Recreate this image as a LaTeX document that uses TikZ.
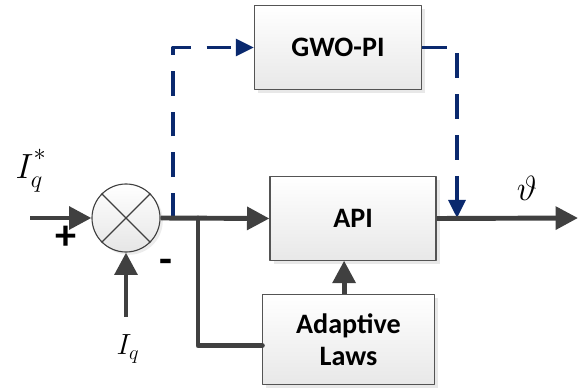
\documentclass[tikz,border=0pt]{standalone}
\usepackage{amsmath,amssymb}
\usepackage{fontspec}
\usepackage{tikz}
\usetikzlibrary{arrows.meta,shadows}
\newfontfamily\blockfont{Carlito}
\definecolor{wqwqwq}{rgb}{0.25,0.25,0.25}
\definecolor{qqzzcc}{rgb}{0.04,0.16,0.43}
\definecolor{uququq}{rgb}{0.33,0.33,0.33}
\tikzset{
  blk/.style={draw=uququq,line width=0.8pt,top color=white,bottom color=black!9,
    drop shadow={opacity=0.18,shadow xshift=0.09cm,shadow yshift=-0.09cm},
    font=\blockfont\bfseries\fontsize{20}{23}\selectfont,align=center,inner sep=0pt},
  sig/.style={line width=3.5pt,color=wqwqwq},
  sigarr/.style={sig,-{Triangle[length=0.56cm,width=0.56cm]}},
  fb/.style={line width=2.6pt,color=qqzzcc,dash pattern=on 0.62cm off 0.4cm,
    -{Triangle[length=0.45cm,width=0.42cm]}},
  sgn/.style={font=\blockfont\bfseries\fontsize{30}{32}\selectfont}
}
\begin{document}
\begin{tikzpicture}[line join=round,x=0.025cm,y=-0.025cm]
\useasboundingbox (0,0) rectangle (584,392);
% blocks
\node[blk,minimum width=4.18cm,minimum height=2.08cm] (gwo) at (338,47.5) {GWO-PI};
\node[blk,minimum width=4.15cm,minimum height=2.08cm] (api) at (353,218.5) {API};
\node[blk,minimum width=4.28cm,minimum height=2.23cm] (adapt) at (348.5,339.5) {Adaptive\\Laws};
\node[circle,draw=wqwqwq,line width=0.8pt,top color=white,bottom color=black!10,
  drop shadow={opacity=0.15,shadow xshift=0.07cm,shadow yshift=-0.07cm},
  minimum size=1.7cm,inner sep=0pt] (sum) at (126,218) {};
\draw[wqwqwq,line width=0.8pt] (sum.north west) -- (sum.south east);
\draw[wqwqwq,line width=0.8pt] (sum.north east) -- (sum.south west);
% taps on the main line
\coordinate (ref) at (30,218);
\coordinate (meas) at (126,317);
\coordinate (tapa) at (173,218);
\coordinate (tapb) at (198,218);
\coordinate (tapc) at (457,218);
\coordinate (out) at (578,218);
% GWO-PI path
\draw[fb] (tapa) |- (gwo.west);
\draw[fb] (gwo.east) -| (tapc);
% signal lines
\draw[sigarr] (ref) -- (sum.west);
\draw[sigarr] (meas) -- (sum.south);
\draw[sigarr] (sum.east) -- (api.west);
\draw[sig,line cap=round] (tapb) |- ([yshift=-0.15cm]adapt.west);
\draw[sigarr] ([xshift=-0.11cm]adapt.north) -- ([xshift=-0.11cm]adapt.north |- api.south);
\draw[sigarr] (api.east) -- (out);
% labels
\node[font=\fontsize{25}{27}\selectfont] (lref) at (31,171) {$I_{q}^{\raisebox{0.35ex}{$\scriptstyle *$}}$};
\node[font=\fontsize{21}{23}\selectfont] (lmeas) at (128,349) {$I_q$};
\node[font=\fontsize{26}{28}\selectfont] (lout) at (527,188) {$\vartheta$};
\node[sgn] (plus) at (66,238) {+};
\node[sgn] (minus) at (166,266) {-};
\end{tikzpicture}
\end{document}
